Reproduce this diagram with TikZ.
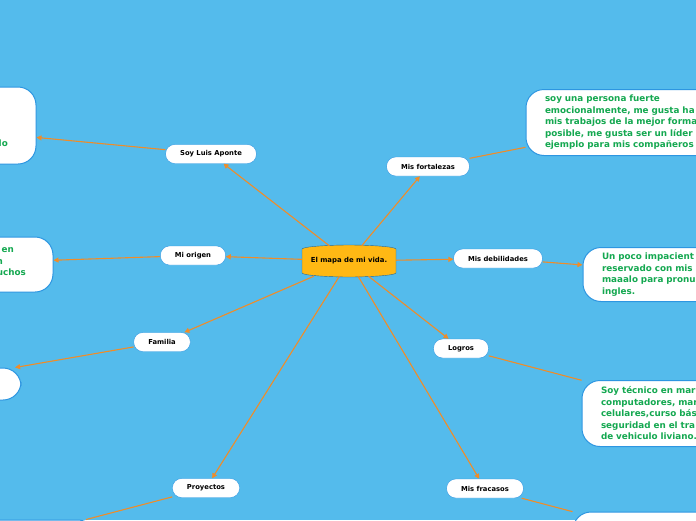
\documentclass[tikz,border=0pt]{standalone}
\usepackage{fontspec}
\setmainfont{DejaVu Sans}
\usetikzlibrary{positioning, arrows.meta}
\definecolor{skyblue}{RGB}{84,187,236}
\definecolor{boxborder}{RGB}{45,150,225}
\definecolor{linkorange}{RGB}{240,140,40}
\definecolor{centeryellow}{RGB}{255,184,20}
\definecolor{notegreen}{RGB}{20,168,80}

\begin{document}
\begin{tikzpicture}[x=1pt, y=-1pt,
  topic/.style={draw=boxborder, fill=white, rounded corners=9pt, minimum height=19pt,
    inner xsep=14.5pt, inner ysep=0pt, font=\fontsize{6.8}{7}\selectfont\bfseries},
  note/.style={draw=boxborder, line width=1pt, fill=white, rounded corners=18pt,
    minimum width=252pt, inner xsep=19pt, text width=214pt, align=left,
    text=notegreen, font=\fontsize{8.8}{11.5}\selectfont\bfseries},
  fragment/.style={inner sep=0pt, text=notegreen, font=\fontsize{8.8}{11.5}\selectfont\bfseries},
  linkline/.style={linkorange, line width=1.1pt},
  arrowed/.style={-{Triangle[length=5pt,width=5pt]}}]
  \useasboundingbox (0,0) rectangle (696,520);
  \clip (0,0) rectangle (696,520);
  \fill[skyblue] (0,0) rectangle (696,520);

  % notes round the map
  \node[note, minimum height=77pt] (aponteNote) at (-90,125.5) {};
  \node[note, minimum height=55pt] (origenNote) at (-73,264.5) {};
  \node[note, minimum height=32pt, minimum width=202pt, text width=164pt] (familiaNote) at (-80,384) {};
  \node[note, minimum height=60pt] (proyectosNote) at (-30,550) {};
  \node[note, minimum height=66pt] (fortalezasNote) at (652,122.5)
    {soy una persona fuerte\\emocionalmente, me gusta ha\\mis trabajos de la mejor forma\\posible, me gusta ser un líder\\ejemplo para mis compañeros};
  \node[note, minimum height=54pt] (debilidadesNote) at (709,274.5)
    {Un poco impacient\\reservado con mis\\maaalo para pronu\\ingles.};
  \node[note, minimum height=66pt] (logrosNote) at (708,413.5)
    {Soy técnico en mar\\computadores, mar\\celulares,curso bás\\seguridad en el tra\\de vehiculo liviano.};
  \node[note, minimum height=66pt] (fracasosNote) at (699,545) {};
  \node[fragment, anchor=base east] (aponteLine) at (8,146) {lo};
  \node[fragment, anchor=base east] (origenLineA) at (14,252) {en};
  \node[fragment, anchor=base east] (origenLineB) at (3,264) {n};
  \node[fragment, anchor=base east] (origenLineC) at (26,275) {uchos};

  % centre
  \fill[centeryellow, draw=boxborder!70!black, line width=0.4pt]
    (302,249) .. controls (303,246.5) and (330,245) .. (349,245)
    .. controls (368,245) and (395,246.5) .. (396,249) -- (396,273)
    .. controls (395,275.5) and (368,277) .. (349,277)
    .. controls (330,277) and (303,275.5) .. (302,273) -- cycle;
  \node[inner sep=0pt, minimum width=94pt, minimum height=30pt,
    font=\fontsize{6.9}{7}\selectfont\bfseries] (map) at (349,261) {El mapa de mi vida.};

  % topics
  \node[topic] (aponte) at (211,154) {Soy Luis Aponte};
  \node[topic] (origen) at (193,255.5) {Mi origen};
  \node[topic] (familia) at (162,342) {Familia};
  \node[topic] (proyectos) at (206,488) {Proyectos};
  \node[topic] (fortalezas) at (428,166.5) {Mis fortalezas};
  \node[topic] (debilidades) at (498,258.5) {Mis debilidades};
  \node[topic] (logros) at (461,348.5) {Logros};
  \node[topic] (fracasos) at (485,488.5) {Mis fracasos};

  % links
  \draw[linkline, arrowed] (map) -- (aponte);
  \draw[linkline, arrowed] (map) -- (origen);
  \draw[linkline, arrowed] (map) -- (familia);
  \draw[linkline, arrowed] (map) -- (proyectos);
  \draw[linkline, arrowed] (map) -- (fortalezas);
  \draw[linkline, arrowed] (map) -- (debilidades);
  \draw[linkline, arrowed] (map) -- (logros);
  \draw[linkline, arrowed] (map) -- (fracasos);
  \draw[linkline, arrowed] (aponte) -- (aponteNote);
  \draw[linkline, arrowed] (origen) -- (origenNote);
  \draw[linkline, arrowed] (familia) -- (familiaNote);
  \draw[linkline] (proyectos) -- (proyectosNote);
  \draw[linkline] (fortalezas) -- (fortalezasNote);
  \draw[linkline, arrowed] (debilidades) -- (debilidadesNote);
  \draw[linkline] (logros) -- (logrosNote);
  \draw[linkline] (fracasos) -- (fracasosNote);
\end{tikzpicture}
\end{document}
